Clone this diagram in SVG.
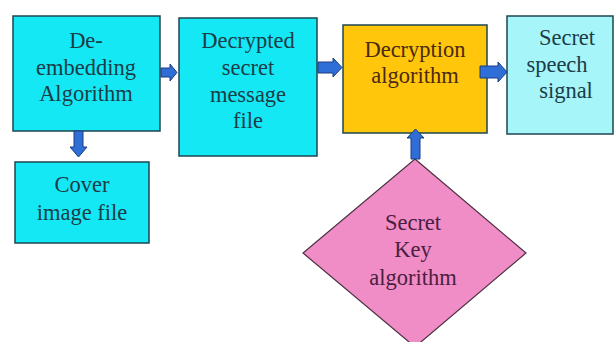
<svg xmlns="http://www.w3.org/2000/svg" width="614" height="342" viewBox="0 0 614 342">
<defs>
<style>
.box{stroke:#1d4650;stroke-width:1.5}
.cyan{fill:#14e8f4}
.light{fill:#a6f5f9}
.orange{fill:#ffc60c}
.pink{fill:#f08cc6;stroke:#4a3040;stroke-width:1.2}
text{font-family:"Liberation Serif","Times New Roman",serif;font-size:22.5px;text-anchor:middle}
.tc{fill:#1b3d48}
.to{fill:#4a2a12}
.tp{fill:#4a2040}
.arr{fill:#2f6ed6;stroke:#1b3c80;stroke-width:1}
</style>
</defs>
<rect width="614" height="342" fill="#ffffff"/>
<g id="deembed">
<rect class="box cyan" x="13" y="16" width="147" height="115"/>
<text class="tc" x="86" y="48">De-</text>
<text class="tc" x="86" y="75">embedding</text>
<text class="tc" x="86" y="101">Algorithm</text>
</g>
<g id="decrypted">
<rect class="box cyan" x="179" y="18" width="138" height="138"/>
<text class="tc" x="248" y="48">Decrypted</text>
<text class="tc" x="248" y="75">secret</text>
<text class="tc" x="248" y="102">message</text>
<text class="tc" x="248" y="128">file</text>
</g>
<g id="decryption">
<rect class="box orange" x="343" y="25" width="144" height="108"/>
<text class="to" x="415" y="57">Decryption</text>
<text class="to" x="415" y="83">algorithm</text>
</g>
<g id="speech">
<rect class="box light" x="507" y="16" width="106" height="118"/>
<text class="tc" x="567" y="45">Secret</text>
<text class="tc" x="557" y="72">speech</text>
<text class="tc" x="566" y="98">signal</text>
</g>
<g id="cover">
<rect class="box cyan" x="15" y="162" width="134" height="81"/>
<text class="tc" x="82" y="192">Cover</text>
<text class="tc" x="82" y="220">image file</text>
</g>
<g id="secretkey">
<polygon class="pink" points="415,159 526,253 415,347 303,253"/>
<text class="tp" x="413" y="230">Secret</text>
<text class="tp" x="413" y="257">Key</text>
<text class="tp" x="413" y="285">algorithm</text>
</g>
<g id="connectors">
<polygon class="arr" points="161,68 170,68 170,64 177,72.5 170,81 170,77 161,77"/>
<polygon class="arr" points="318,62 333,62 333,58 342,67.5 333,77 333,73 318,73"/>
<polygon class="arr" points="480,66 498,66 498,62 507,72 498,82 498,78 480,78"/>
<polygon class="arr" points="74,131 83,131 83,147 87,147 78.5,157 70,147 74,147"/>
<polygon class="arr" points="411,159 411,138 407,138 415.5,129 424,138 420,138 420,159"/>
</g>
</svg>
